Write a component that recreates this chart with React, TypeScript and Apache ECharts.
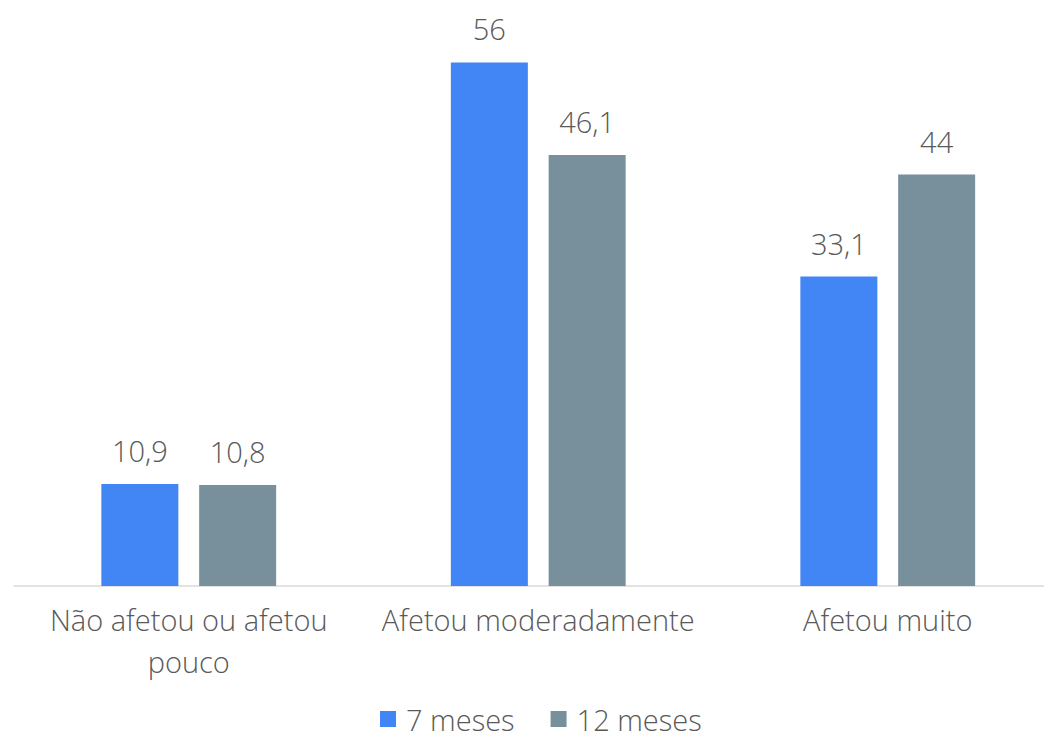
import React, { useEffect, useRef } from "react";
import * as echarts from "echarts";

const categories = ["Não afetou ou afetou pouco", "Afetou moderadamente", "Afetou muito"];
const seriesNames = ["7 meses", "12 meses"];
const values7 = [10.9, 56, 33.1];
const values12 = [10.8, 46.1, 44];
const colors = ["#4285F4", "#78909C"];

const FONT = "Open Sans";
const TEXT_COLOR = "#595959";
const FS = 29;

export default function App() {
  const ref = useRef<HTMLDivElement>(null);
  useEffect(() => {
    if (!ref.current) return;
    document.body.style.overflow = "hidden";
    const chart = echarts.init(ref.current, null, { renderer: "svg" });
    const fmt = (v: number) => String(v).replace(".", ",");
    chart.setOption({
      animation: false,
      textStyle: { fontFamily: FONT },
      grid: { left: 14, width: 1048.5, top: 25, bottom: 149, containLabel: false },
      legend: {
        top: 704,
        left: 380,
        padding: 0,
        itemWidth: 16,
        itemHeight: 16,
        itemGap: 36,
        icon: "rect",
        textStyle: { fontFamily: FONT, fontSize: FS, fontWeight: 300, lineHeight: 30, color: TEXT_COLOR, padding: [0, 0, 0, 5] },
        data: seriesNames,
      },
      xAxis: {
        type: "category",
        data: categories,
        axisLine: { lineStyle: { color: "#D9D9D9", width: 1.5 } },
        axisTick: { show: false },
        axisLabel: {
          interval: 0,
          margin: 12,
          fontFamily: FONT,
          fontSize: FS,
          fontWeight: 300,
          color: TEXT_COLOR,
          lineHeight: 42,
          formatter: (v: string) => (v === "Não afetou ou afetou pouco" ? "Não afetou ou afetou\npouco" : v),
        },
      },
      yAxis: { type: "value", min: 0, max: 60, show: false, splitLine: { show: false } },
      series: [values7, values12].map((vals, i) => ({
        name: seriesNames[i],
        type: "bar",
        data: vals,
        barWidth: 77,
        barGap: "27%",
        itemStyle: { color: colors[i] },
        label: {
          show: true,
          position: "top",
          distance: 19,
          fontFamily: FONT,
          fontSize: FS,
          fontWeight: 300,
          color: TEXT_COLOR,
          formatter: (p: any) => fmt(p.value),
        },
      })),
    });
    return () => chart.dispose();
  }, []);
  return <div ref={ref} style={{ position: "fixed", left: 0, top: 0, width: 1070, height: 735, background: "#fff" }} />;
}
